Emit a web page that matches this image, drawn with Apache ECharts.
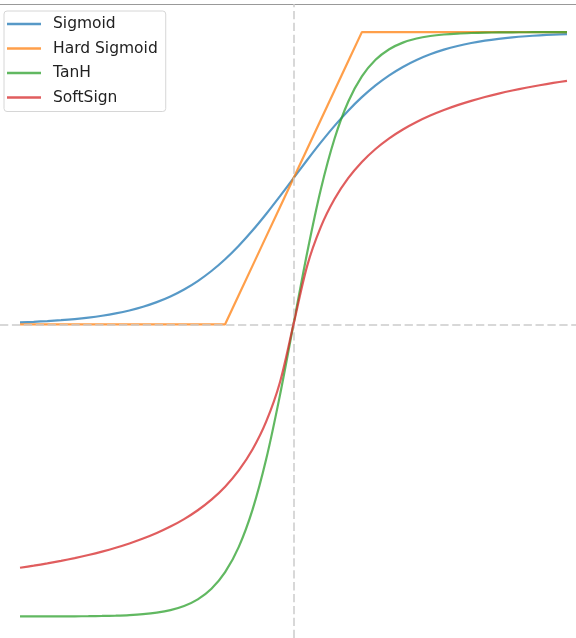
<!DOCTYPE html>
<html>
<head>
<meta charset="utf-8">
<script src="https://cdn.jsdelivr.net/npm/echarts@6/dist/echarts.min.js"></script>
<style>html,body{margin:0;padding:0;background:#fff;}#c{width:576px;height:638px;}</style>
</head>
<body>
<div id="c"></div>
<script>
const xs = [-5,-4.75,-4.5,-4.25,-4,-3.75,-3.5,-3.25,-3,-2.75,-2.5,-2.25,-2,-1.75,-1.5,-1.25,-1,-0.75,-0.5,-0.25,0,
  0.25,0.5,0.75,1,1.25,1.5,1.75,2,2.25,2.5,2.75,3,3.25,3.5,3.75,4,4.25,4.5,4.75,5];
const sigmoid = [0.0067,0.0086,0.0110,0.0141,0.0180,0.0230,0.0293,0.0373,0.0474,0.0601,0.0759,0.0953,0.1192,0.1480,0.1824,0.2227,0.2689,0.3208,0.3775,0.4378,0.5,
  0.5622,0.6225,0.6792,0.7311,0.7773,0.8176,0.8520,0.8808,0.9047,0.9241,0.9399,0.9526,0.9627,0.9707,0.9770,0.9820,0.9859,0.9890,0.9914,0.9933];
const hardSigmoid = [0,0,0,0,0,0,0,0,0,0,0,0,0,0,0,0,0.1,0.2,0.3,0.4,0.5,
  0.6,0.7,0.8,0.9,1,1,1,1,1,1,1,1,1,1,1,1,1,1,1,1];
const tanh = [-0.9999,-0.9999,-0.9998,-0.9996,-0.9993,-0.9989,-0.9982,-0.9970,-0.9951,-0.9919,-0.9866,-0.9780,-0.9640,-0.9414,-0.9051,-0.8483,-0.7616,-0.6351,-0.4621,-0.2449,0,
  0.2449,0.4621,0.6351,0.7616,0.8483,0.9051,0.9414,0.9640,0.9780,0.9866,0.9919,0.9951,0.9970,0.9982,0.9989,0.9993,0.9996,0.9998,0.9999,0.9999];
const softSign = [-0.8333,-0.8261,-0.8182,-0.8095,-0.8,-0.7895,-0.7778,-0.7647,-0.75,-0.7333,-0.7143,-0.6923,-0.6667,-0.6364,-0.6,-0.5556,-0.5,-0.4286,-0.3333,-0.2,0,
  0.2,0.3333,0.4286,0.5,0.5556,0.6,0.6364,0.6667,0.6923,0.7143,0.7333,0.75,0.7647,0.7778,0.7895,0.8,0.8095,0.8182,0.8261,0.8333];
const seriesNames = ['Sigmoid','Hard Sigmoid','TanH','SoftSign'];
const colors = ['rgba(31,119,180,0.75)','rgba(255,127,14,0.75)','rgba(44,160,44,0.75)','rgba(214,39,40,0.75)'];

const pairs = arr => xs.map((x,i)=>[x, arr[i]]);
const chart = echarts.init(document.getElementById('c'), null, {renderer:'canvas'});
const dash = {type:[8.3,3.6], color:'#cccccc', width:1.5};
const mk = (name, arr, smooth, extra) => Object.assign({
  name, type:'line', data:pairs(arr), showSymbol:false, smooth: smooth ? 0.3 : false,
  lineStyle:{width:2.2}, animation:false
}, extra||{});
chart.setOption({
  animation:false,
  color: colors,
  grid:{left:0, right:0, top:4, bottom:0},
  xAxis:{type:'value', position:'top', min:-5.366, max:5.165,
    axisLine:{show:true, onZero:false, lineStyle:{color:'#999999', width:1}},
    axisTick:{show:false}, axisLabel:{show:false}, splitLine:{show:false}},
  yAxis:{type:'value', min:-1.0736, max:1.0962, show:false, splitLine:{show:false}},
  legend:{
    orient:'vertical', left:4, top:11,
    data: seriesNames,
    icon:'rect', itemWidth:34, itemHeight:2.5, itemGap:8.5,
    padding:[5,8,6,3],
    borderColor:'#d6d6d6', borderWidth:1, borderRadius:3, backgroundColor:'#ffffff',
    textStyle:{fontFamily:'DejaVu Sans', fontSize:15.5, color:'#222222', lineHeight:15.5, padding:[0,0,0,7]}
  },
  series:[
    mk(seriesNames[0], sigmoid, true, {z:2, markLine:{silent:true, symbol:'none', animation:false, label:{show:false},
      lineStyle:dash, data:[{xAxis:0},{yAxis:0}]}}),
    mk(seriesNames[1], hardSigmoid, false, {z:3}),
    mk(seriesNames[2], tanh, true, {z:4}),
    mk(seriesNames[3], softSign, true, {z:5})
  ]
});
</script>
</body>
</html>
